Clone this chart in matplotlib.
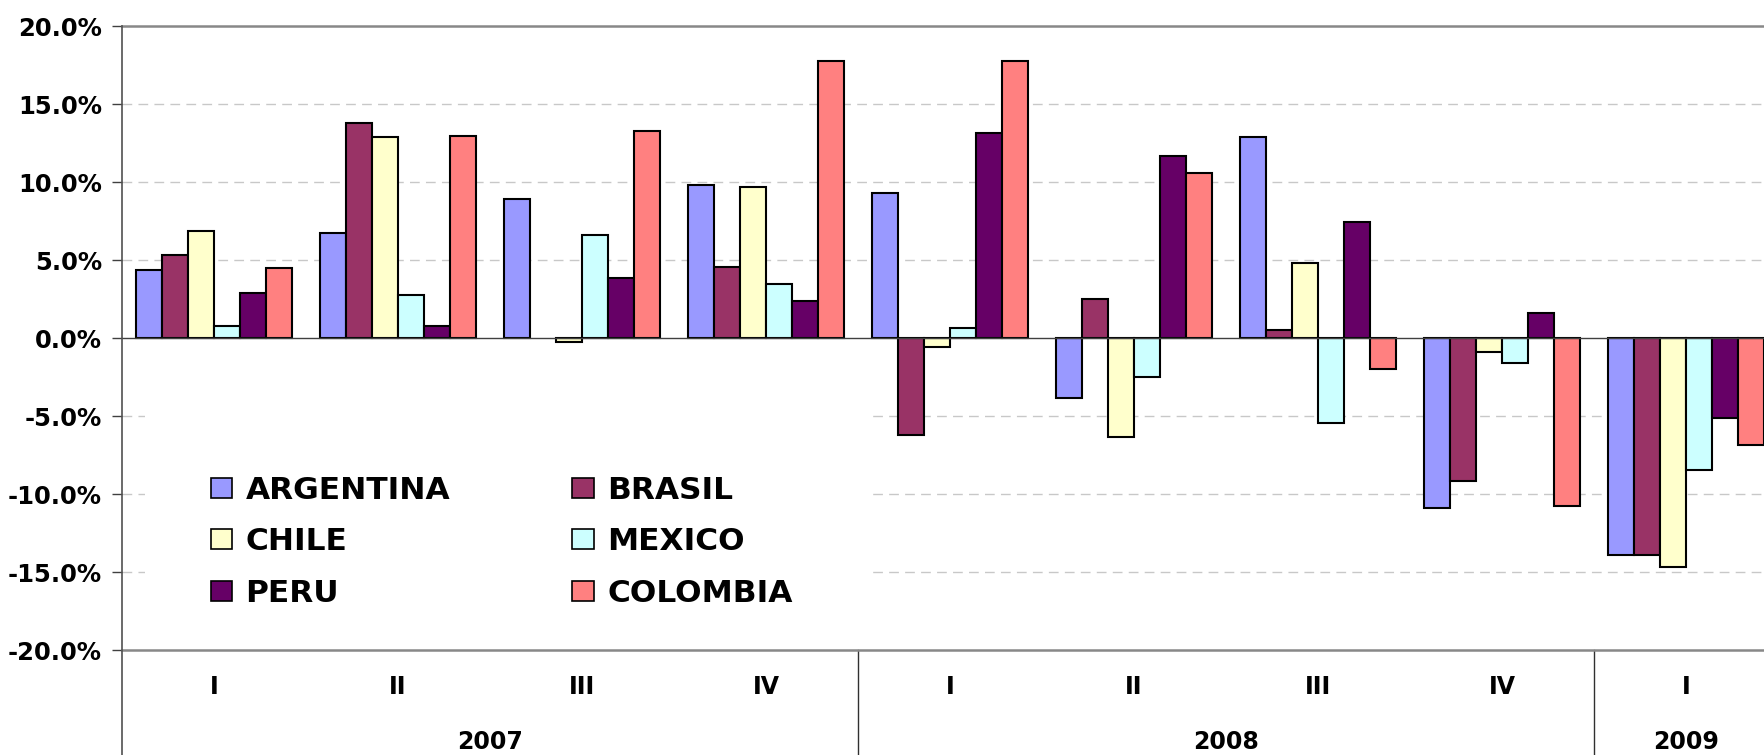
import numpy as np
import matplotlib
matplotlib.use("Agg")
import matplotlib.pyplot as plt
from matplotlib.patches import Patch, Rectangle
from matplotlib.lines import Line2D
from matplotlib.ticker import FuncFormatter

# quarterly growth (%), 2007-I .. 2009-I
quarters = ['I', 'II', 'III', 'IV', 'I', 'II', 'III', 'IV', 'I']
years = ['2007', '2008', '2009']
quarters_per_year = [4, 4, 1]

countries = ['ARGENTINA', 'BRASIL', 'CHILE', 'MEXICO', 'PERU', 'COLOMBIA']
argentina = [4.36, 6.75, 8.89, 9.83, 9.29, -3.85, 12.88, -10.88, -13.91]
brasil = [5.32, 13.76, np.nan, 4.53, -6.24, 2.52, 0.51, -9.15, -13.91]
chile = [6.88, 12.86, -0.26, 9.66, -0.56, -6.35, 4.79, -0.92, -14.70]
mexico = [0.77, 2.78, 6.62, 3.46, 0.66, -2.52, -5.43, -1.58, -8.48]
peru = [2.90, 0.77, 3.87, 2.39, 13.14, 11.67, 7.46, 1.60, -5.15]
colombia = [4.50, 12.97, 13.27, 17.76, 17.76, 10.60, -1.99, -10.77, -6.88]

series = [argentina, brasil, chile, mexico, peru, colombia]
colors = ['#9999FF', '#993366', '#FFFFCC', '#CCFFFF', '#660066', '#FF8080']

W, H = 1765, 755
fig = plt.figure(figsize=(W / 100, H / 100), dpi=100)
# plot area runs past the right edge of the image
ax = fig.add_axes([122 / W, 1 - 650 / H, 1656 / W, 624 / H])

x = np.arange(len(quarters))
bw = 0.1413
for k, (vals, c) in enumerate(zip(series, colors)):
    ax.bar(x + (k - 2.5) * bw, vals, width=bw, color=c, edgecolor='black',
           linewidth=1.5, zorder=2, label=countries[k])

ax.set_xlim(-0.5, len(quarters) - 0.5)
ax.set_ylim(-20, 20)
ax.set_yticks(np.arange(-20, 21, 5))
ax.yaxis.set_major_formatter(FuncFormatter(lambda v, p: f'{v:.1f}%'))
ax.set_xticks([])

ax.set_axisbelow(True)
for yv in [-15, -10, -5, 5, 10, 15]:
    ax.axhline(yv, color='#C8C8C8', lw=1.0, ls=(0, (7, 4.5)), zorder=0.5)
ax.axhline(0, color='#404040', lw=1.0, zorder=2.6)

for s in ['top', 'bottom']:
    ax.spines[s].set_color('#888888')
    ax.spines[s].set_linewidth(1.8)
ax.spines['right'].set_visible(False)
ax.spines['left'].set_visible(False)

ax.tick_params(axis='y', length=7.5, width=1.0, color='#404040', pad=7,
               labelsize=17.5)
for t in ax.get_yticklabels():
    t.set_fontweight('bold')

# left axis line and year separators drop through the category band
xt = ax.get_xaxis_transform()
ax.add_line(Line2D([-0.5, -0.5], [1, -0.2], transform=xt, color='#505050',
                   lw=1.2, clip_on=False, zorder=3))
edge = -0.5
for n in quarters_per_year[:-1]:
    edge += n
    ax.add_line(Line2D([edge, edge], [0, -0.2], transform=xt, color='#303030',
                       lw=1.0, clip_on=False))

for i, q in enumerate(quarters):
    ax.text(i, -0.060, q, transform=xt, ha='center', va='center',
            fontsize=17, fontweight='bold')
start = 0
for yr, n in zip(years, quarters_per_year):
    ax.text(start + (n - 1) / 2, -0.147, yr, transform=xt, ha='center',
            va='center', fontsize=17, fontweight='bold')
    start += n

# white backing behind the legend hides the gridlines
ax.add_patch(Rectangle((145 / W, 1 - 650 / H), (867 - 145) / W, (650 - 410) / H,
                       transform=fig.transFigure, facecolor='white',
                       edgecolor='none', zorder=0.8))

# legend filled row by row: two countries per row
order = [0, 2, 4, 1, 3, 5]
handles = [Patch(facecolor=colors[i], edgecolor='black', linewidth=1.2) for i in order]
labels = [countries[i] for i in order]
leg = ax.legend(handles, labels, ncol=2, frameon=False,
                loc='upper left', bbox_to_anchor=(195 / W, 1 - 460 / H),
                bbox_transform=fig.transFigure, borderpad=0,
                prop={'weight': 'bold', 'size': 22.5},
                handlelength=0.70, handleheight=0.62, handletextpad=0.42,
                columnspacing=3.9, labelspacing=0.72)

fig.savefig('out.png', dpi=100)
